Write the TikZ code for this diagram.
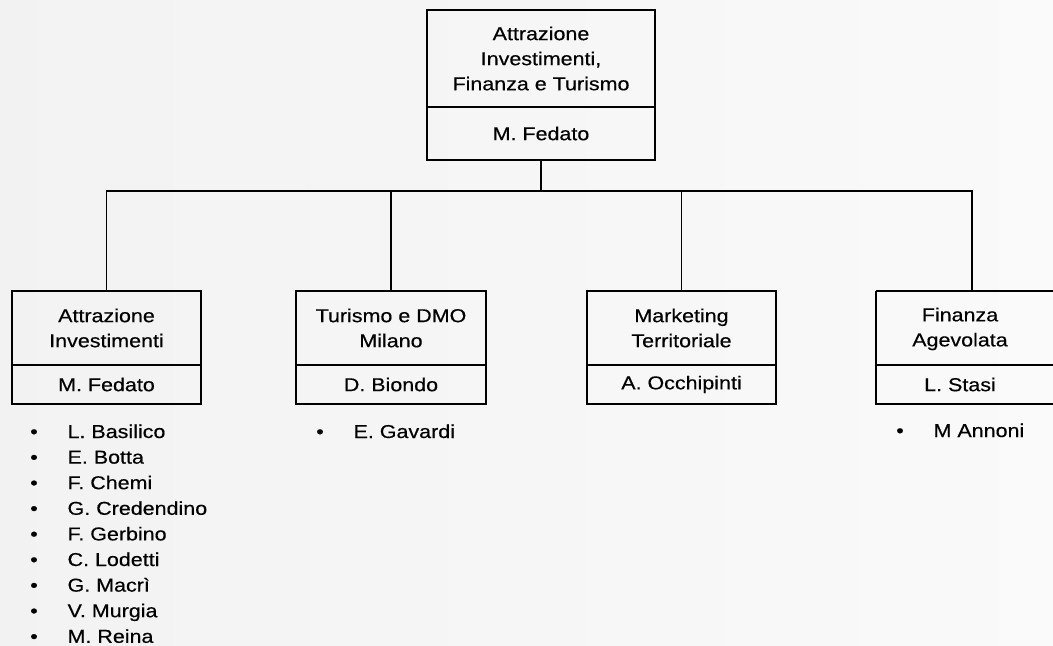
\documentclass[tikz,border=0pt]{standalone}
\usepackage{fontspec}
\setmainfont{Liberation Sans}[FakeStretch=1.15, FakeBold=0.4]
\begin{document}
\begin{tikzpicture}[x=0.75pt,y=-0.75pt,
  txt/.style={font=\fontsize{14}{18.8}\selectfont, align=center, inner sep=0pt},
  box/.style={txt, draw, line width=1pt, minimum width=141.75pt},
  boxtitle/.style={box, minimum height=55.5pt},
  boxname/.style={box, minimum height=29.25pt},
  wire/.style={line width=1pt},
  blist/.style={font=\fontsize{14}{19.2}\selectfont, inner sep=0pt, anchor=base west}]
\useasboundingbox (0,0) rectangle (1053,646);
\shade[left color=black!5, right color=black!2] (0,0) rectangle (1053,646);
% top box
\node[box, minimum width=171pt, minimum height=72.75pt] (topt) at (541,58.5)
  {Attrazione\\Investimenti,\\Finanza e Turismo};
\node[box, minimum width=171pt, minimum height=39.75pt] (topn) at (541,133.5) {M. Fedato};
% second level
\node[boxtitle] (b1t) at (106.5,328) {Attrazione\\Investimenti};
\node[boxname]  (b1n) at (106.5,384.5) {M. Fedato};
\node[boxtitle, minimum width=142.5pt] (b2t) at (391,328) {Turismo e DMO\\Milano};
\node[boxname, minimum width=142.5pt]  (b2n) at (391,384.5) {D. Biondo};
\node[boxtitle] (b3t) at (681.5,328) {Marketing\\Territoriale};
\node[boxname]  (b3n) at (681.5,384.5) {A. Occhipinti};
\node[txt, minimum width=126pt, minimum height=55.5pt] (b4t) at (960,329) {Finanza\\Agevolata};
\node[txt, minimum width=126pt, minimum height=29.25pt] (b4n) at (960,384.5) {L. Stasi};
\coordinate (b4tl) at (876,291);
\coordinate (b4ml) at (876,365);
\coordinate (b4bl) at (876,404);
\draw[wire] (b4tl) -- ++(200,0);
\draw[wire] (b4tl) -- (b4bl) -- ++(200,0);
\draw[wire] (b4ml) -- ++(200,0);
% connectors
\coordinate (bus) at (541,191);
\coordinate (c4) at (972,291);
\draw[wire] (topn.south) -- (bus);
\draw[wire] (b1t.north) |- (bus) -| (c4);
\draw[wire] (b2t.north) -- (b2t.north |- bus);
\draw[wire] (b3t.north) -- (b3t.north |- bus);
% lists
\node[blist] (l1) at (30,438) {\begin{tabular}[t]{@{}p{28pt}@{}l@{}}
•&L. Basilico\\ •&E. Botta\\ •&F. Chemi\\ •&G. Credendino\\ •&F. Gerbino\\
•&C. Lodetti\\ •&G. Macrì\\ •&V. Murgia\\ •&M. Reina\end{tabular}};
\node[blist] (l2) at (316,438) {\begin{tabular}[t]{@{}p{28pt}@{}l@{}}•&E. Gavardi\end{tabular}};
\node[blist] (l4) at (896,437) {\begin{tabular}[t]{@{}p{28pt}@{}l@{}}•&M Annoni\end{tabular}};
\end{tikzpicture}
\end{document}
